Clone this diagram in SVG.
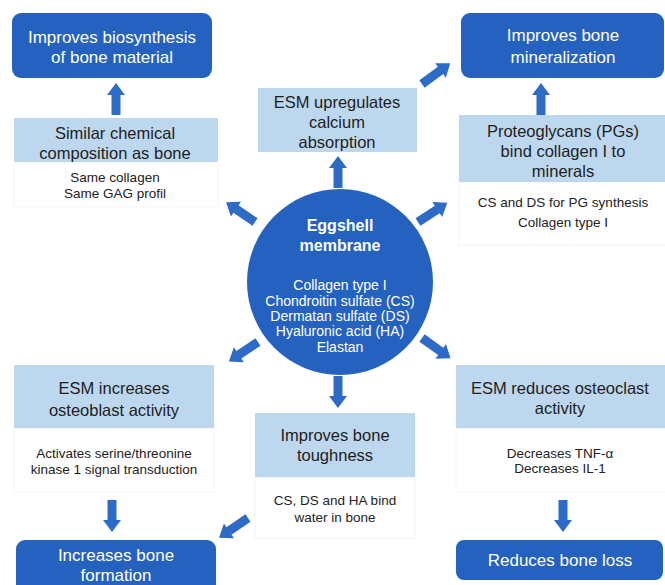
<svg xmlns="http://www.w3.org/2000/svg" xmlns:xlink="http://www.w3.org/1999/xlink" width="665" height="585" viewBox="0 0 665 585">
<style>
text{font-family:"Liberation Sans",Arial,sans-serif;text-anchor:middle}
.dark{fill:#2562c0}
.light{fill:#bdd7ee}
.det{fill:#ffffff;stroke:#f3f3f3;stroke-width:1}
.tw{fill:#ffffff;font-size:17px}
.tl{fill:#1e1e1e;font-size:16.5px}
.td{fill:#222222;font-size:13.5px}
.tc{fill:#ffffff;font-size:14px}
.tcb{fill:#ffffff;font-size:16px;font-weight:bold}
.arr{fill:#2e6bc6}
</style>
<defs>
<polygon id="a32" points="0,-4.5 20,-4.5 20,-9 32,0 20,9 20,4.5 0,4.5"/>
<polygon id="a35" points="0,-4.5 23,-4.5 23,-9 35,0 23,9 23,4.5 0,4.5"/>
</defs>
<g id="connectors" class="arr">
<use href="#a32" transform="translate(116,115) rotate(-90)"/>
<use href="#a32" transform="translate(541,115) rotate(-90)"/>
<use href="#a32" transform="translate(338,188) rotate(-90)"/>
<use href="#a32" transform="translate(338,376) rotate(90)"/>
<use href="#a32" transform="translate(112,500) rotate(90)"/>
<use href="#a32" transform="translate(563,500) rotate(90)"/>
<use href="#a35" transform="translate(422,84) rotate(-36.3)"/>
<use href="#a35" transform="translate(255,222) rotate(-145.8)"/>
<use href="#a35" transform="translate(418,222) rotate(-33.2)"/>
<use href="#a35" transform="translate(258,342) rotate(146.3)"/>
<use href="#a35" transform="translate(422,338) rotate(35.5)"/>
<use href="#a35" transform="translate(248,518) rotate(145.8)"/>
</g>
<g id="center">
<circle cx="340" cy="282" r="93" class="dark"/>
<text class="tcb" x="340" y="231">Eggshell</text>
<text class="tcb" x="340" y="251">membrane</text>
<text class="tc" x="340" y="290">Collagen type I</text>
<text class="tc" x="340" y="306">Chondroitin sulfate (CS)</text>
<text class="tc" x="340" y="321">Dermatan sulfate (DS)</text>
<text class="tc" x="340" y="336">Hyaluronic acid (HA)</text>
<text class="tc" x="340" y="352">Elastan</text>
</g>
<g id="biosynthesis">
<rect x="12" y="13" width="200" height="65" rx="9" class="dark"/>
<text class="tw" x="112" y="43">Improves biosynthesis</text>
<text class="tw" x="112" y="63">of bone material</text>
</g>
<g id="similar">
<rect x="14" y="162" width="204" height="45" class="det"/>
<rect x="14" y="118" width="204" height="44" class="light"/>
<text class="tl" x="115" y="139">Similar chemical</text>
<text class="tl" x="115" y="159">composition as bone</text>
<text class="td" x="115" y="182">Same collagen</text>
<text class="td" x="115" y="198">Same GAG profil</text>
</g>
<g id="calcium">
<rect x="258" y="88" width="159" height="64" class="light"/>
<text class="tl" x="337" y="108">ESM upregulates</text>
<text class="tl" x="337" y="128">calcium</text>
<text class="tl" x="337" y="148">absorption</text>
</g>
<g id="mineralization">
<rect x="461" y="13" width="203" height="65" rx="9" class="dark"/>
<text class="tw" x="563" y="41">Improves bone</text>
<text class="tw" x="563" y="63">mineralization</text>
</g>
<g id="proteoglycans">
<rect x="459" y="182" width="210" height="63" class="det"/>
<rect x="459" y="115" width="210" height="67" class="light"/>
<text class="tl" x="563" y="137">Proteoglycans (PGs)</text>
<text class="tl" x="563" y="157">bind collagen I to</text>
<text class="tl" x="563" y="177">minerals</text>
<text class="td" x="563" y="207">CS and DS for PG synthesis</text>
<text class="td" x="563" y="227">Collagen type I</text>
</g>
<g id="osteoblast">
<rect x="14" y="428" width="200" height="64" class="det"/>
<rect x="14" y="365" width="200" height="63" class="light"/>
<text class="tl" x="114" y="394">ESM increases</text>
<text class="tl" x="114" y="416">osteoblast activity</text>
<text class="td" x="114" y="458">Activates serine/threonine</text>
<text class="td" x="114" y="474">kinase 1 signal transduction</text>
</g>
<g id="formation">
<rect x="16" y="540" width="200" height="60" rx="9" class="dark"/>
<text class="tw" x="116" y="561">Increases bone</text>
<text class="tw" x="116" y="581">formation</text>
</g>
<g id="toughness">
<rect x="255" y="477" width="160" height="61" class="det"/>
<rect x="255" y="413" width="160" height="64" class="light"/>
<text class="tl" x="335" y="441">Improves bone</text>
<text class="tl" x="335" y="461">toughness</text>
<text class="td" x="335" y="505">CS, DS and HA bind</text>
<text class="td" x="335" y="522">water in bone</text>
</g>
<g id="osteoclast">
<rect x="456" y="428" width="212" height="64" class="det"/>
<rect x="456" y="365" width="212" height="63" class="light"/>
<text class="tl" x="560" y="394">ESM reduces osteoclast</text>
<text class="tl" x="560" y="414">activity</text>
<text class="td" x="560" y="458">Decreases TNF-α</text>
<text class="td" x="560" y="473">Decreases IL-1</text>
</g>
<g id="boneloss">
<rect x="456" y="540" width="207" height="40" rx="8" class="dark"/>
<text class="tw" x="560" y="566">Reduces bone loss</text>
</g>
</svg>
